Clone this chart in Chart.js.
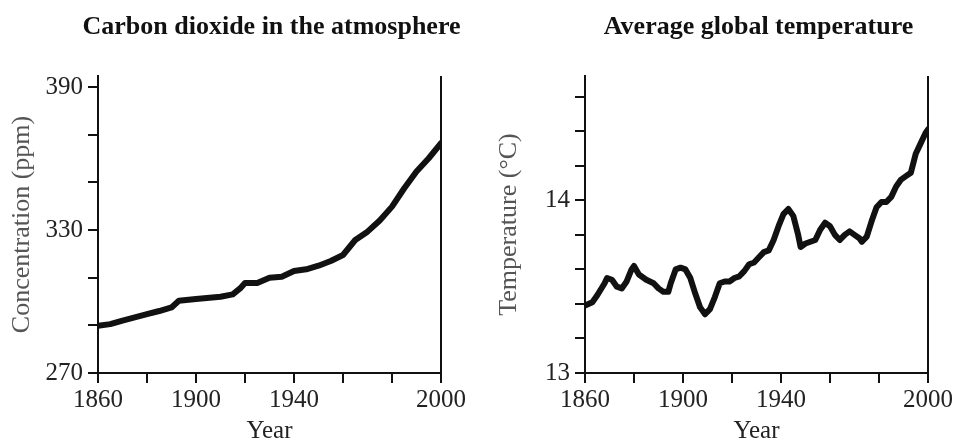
<!DOCTYPE html>
<html>
<head>
<meta charset="utf-8">
<script src="https://cdn.jsdelivr.net/npm/chart.js@4"></script>
<style>
  html, body { margin: 0; padding: 0; background: #fff; overflow: hidden; }
  #wrap { position: relative; width: 956px; height: 442px; }
  .panel { position: absolute; top: 0; width: 478px; height: 442px; }
</style>
</head>
<body>
<div id="wrap">
  <div class="panel" style="left:0"><canvas id="co2Chart"></canvas></div>
  <div class="panel" style="left:478px"><canvas id="tempChart"></canvas></div>
</div>
<script>
// CO2 concentration (ppm)
const co2Years = [1860, 1865, 1870, 1875, 1880, 1885, 1890, 1893, 1900, 1910, 1915, 1918, 1920, 1925,
                  1930, 1935, 1940, 1945, 1950, 1955, 1960, 1965, 1970, 1975, 1980, 1985, 1990, 1995, 2000];
const co2Values = [289.8, 290.5, 292, 293.3, 294.7, 296, 297.5, 300.3, 301, 302, 303, 305.5, 307.8, 307.8,
                   310, 310.4, 312.8, 313.5, 315, 317, 319.5, 325.8, 329.3, 334, 339.8, 347.5, 354.5, 360.1, 366.4];

// Average global temperature (deg C)
const tempYears = [1860, 1863, 1865, 1868, 1869, 1871, 1873, 1875, 1877, 1879, 1880, 1882, 1885, 1888, 1890,
                   1892, 1894, 1895, 1897, 1899, 1901, 1903, 1905, 1907, 1909, 1911, 1913, 1915, 1917, 1919,
                   1921, 1923, 1925, 1927, 1929, 1931, 1933, 1935, 1937, 1939, 1941, 1943, 1945, 1947, 1948,
                   1950, 1952, 1954, 1956, 1958, 1960, 1962, 1964, 1966, 1968, 1970, 1972, 1973, 1975, 1977,
                   1979, 1981, 1983, 1985, 1987, 1989, 1991, 1993, 1995, 1997, 1999, 2000];
const tempValues = [13.39, 13.41, 13.45, 13.52, 13.55, 13.54, 13.50, 13.49, 13.53, 13.60, 13.62, 13.57, 13.54, 13.52, 13.49,
                    13.47, 13.47, 13.52, 13.60, 13.61, 13.60, 13.55, 13.46, 13.38, 13.34, 13.37, 13.44, 13.52, 13.53, 13.53,
                    13.55, 13.56, 13.59, 13.63, 13.64, 13.67, 13.70, 13.71, 13.77, 13.85, 13.92, 13.95, 13.91, 13.80, 13.73,
                    13.75, 13.76, 13.77, 13.83, 13.87, 13.85, 13.80, 13.77, 13.80, 13.82, 13.80, 13.78, 13.76, 13.79, 13.88,
                    13.96, 13.99, 13.99, 14.02, 14.08, 14.12, 14.14, 14.16, 14.27, 14.33, 14.39, 14.41];

// tick marks and which of them carry a label
const yearTicks = [1860, 1880, 1900, 1920, 1940, 1960, 1980, 2000];
const yearLabels = [1860, 1900, 1940, 2000];
const co2Ticks = [270, 290, 310, 330, 350, 370, 390];
const co2Labels = [270, 330, 390];
const tempTicks = [13, 13.2, 13.4, 13.6, 13.8, 14, 14.2, 14.4, 14.6];
const tempLabels = [13, 14];

const serif = '"Liberation Serif", "Times New Roman", serif';

// draws the bold panel heading centred over the plot area
const panelTitle = {
    id: 'panelTitle',
    afterDraw(chart, args, opts) {
        const ctx = chart.ctx;
        const area = chart.chartArea;
        ctx.save();
        ctx.font = 'bold 26px ' + serif;
        ctx.fillStyle = '#111';
        ctx.textAlign = 'center';
        ctx.textBaseline = 'alphabetic';
        ctx.fillText(opts.text, (area.left + area.right) / 2 + (opts.shift || 0), 34);
        ctx.restore();
    }
};

const hasLabel = (list, v) => list.some(l => Math.abs(l - v) < 1e-6);

function makeChart(id, cfg) {
    return new Chart(document.getElementById(id), {
        type: 'line',
        data: {
            datasets: [{
                data: cfg.years.map((yr, i) => ({ x: yr, y: cfg.values[i] })),
                borderColor: '#111',
                borderWidth: cfg.lineWidth,
                borderJoinStyle: 'round',
                borderCapStyle: 'round',
                pointRadius: 0,
                tension: 0
            }]
        },
        options: {
            responsive: false,
            animation: false,
            events: [],
            layout: { padding: { top: 76, right: cfg.padRight, left: 0, bottom: 0 } },
            plugins: {
                legend: { display: false },
                tooltip: { enabled: false },
                panelTitle: { text: cfg.title, shift: cfg.titleShift }
            },
            scales: {
                x: {
                    type: 'linear',
                    min: 1860, max: 2000,
                    afterBuildTicks: s => { s.ticks = yearTicks.map(v => ({ value: v })); },
                    afterFit: s => { s.height = 69; },
                    border: { display: true, color: '#111', width: 2 },
                    grid: {
                        drawOnChartArea: true,
                        color: c => (c.tick && c.tick.value === 2000) ? '#111' : 'rgba(0,0,0,0)',
                        tickColor: '#111',
                        lineWidth: 2,
                        tickLength: 10
                    },
                    ticks: {
                        maxRotation: 0,
                        autoSkip: false,
                        padding: 2,
                        color: '#222',
                        font: { family: serif, size: 25 },
                        callback: v => hasLabel(yearLabels, v) ? String(v) : ''
                    },
                    title: {
                        display: true,
                        text: 'Year',
                        color: '#222',
                        font: { family: serif, size: 25, lineHeight: 1 },
                        padding: { top: 0, bottom: -2 }
                    }
                },
                y: {
                    min: cfg.yMin, max: cfg.yMax,
                    afterBuildTicks: s => { s.ticks = cfg.yTicks.map(v => ({ value: v })); },
                    afterFit: s => { s.width = cfg.axisWidth; },
                    border: { display: true, color: '#111', width: 2 },
                    grid: { drawOnChartArea: false, tickColor: '#111', lineWidth: 2, tickLength: 10 },
                    ticks: {
                        autoSkip: false,
                        padding: 5,
                        color: '#222',
                        font: { family: serif, size: 25 },
                        callback: v => hasLabel(cfg.yLabels, v) ? String(Math.round(v)) : ''
                    },
                    title: {
                        display: true,
                        text: cfg.yTitle,
                        color: '#555',
                        font: { family: serif, size: 26, lineHeight: 1.2 },
                        padding: { top: cfg.yTitlePad, bottom: 0 }
                    }
                }
            }
        },
        plugins: [panelTitle]
    });
}

function init() {
    const c1 = document.getElementById('co2Chart');
    const c2 = document.getElementById('tempChart');
    c1.width = 478; c1.height = 442;
    c2.width = 478; c2.height = 442;

    makeChart('co2Chart', {
        years: co2Years, values: co2Values, lineWidth: 6,
        title: 'Carbon dioxide in the atmosphere', titleShift: 2,
        yTitle: 'Concentration (ppm)', yTitlePad: 7,
        yMin: 270, yMax: 394.6, yTicks: co2Ticks, yLabels: co2Labels,
        axisWidth: 98, padRight: 37
    });

    makeChart('tempChart', {
        years: tempYears, values: tempValues, lineWidth: 6,
        title: 'Average global temperature', titleShift: 2,
        yTitle: 'Temperature (\u00B0C)', yTitlePad: 16,
        yMin: 13, yMax: 14.72, yTicks: tempTicks, yLabels: tempLabels,
        axisWidth: 107, padRight: 28
    });
}

window.onload = init;
</script>
</body>
</html>
